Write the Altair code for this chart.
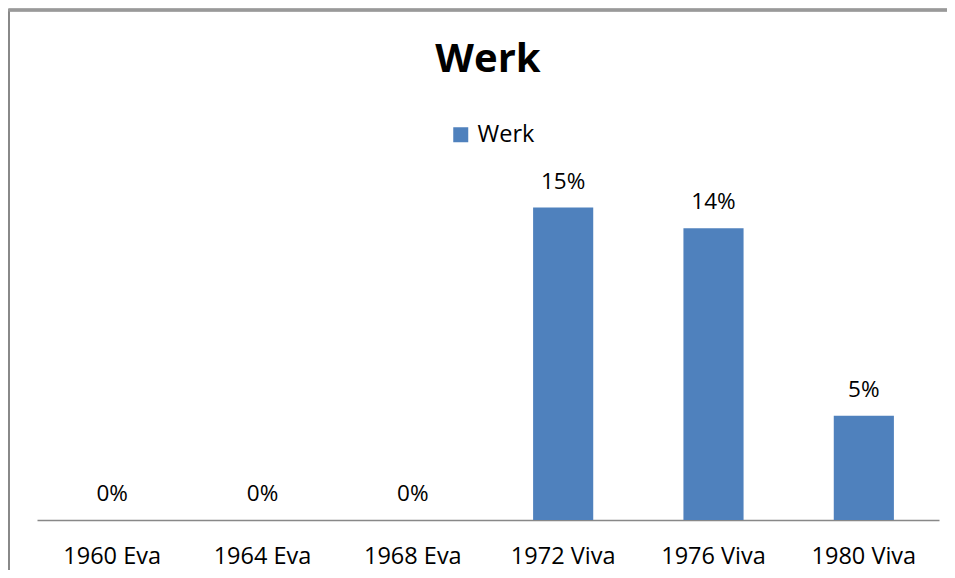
import altair as alt
import pandas as pd

categories = ["1960 Eva", "1964 Eva", "1968 Eva", "1972 Viva", "1976 Viva", "1980 Viva"]
values = [0.0, 0.0, 0.0, 0.15, 0.14, 0.05]
series_name = "Werk"
title_text = "Werk"

df = pd.DataFrame({"cat": categories, "val": values, "series": [series_name] * len(categories)})

FONT = "Open Sans"
W, H = 902, 375

x_enc = alt.X("cat:N", sort=categories, title=None,
              scale=alt.Scale(paddingInner=0.6, paddingOuter=0.3),
              axis=alt.Axis(labelAngle=0, ticks=False, labelPadding=43, labelBaseline="alphabetic",
                            labelFont=FONT, labelFontSize=23.5, labelColor="#000000",
                            domainColor="#888888", domainWidth=1.5, grid=False))
y_enc = alt.Y("val:Q", title=None, scale=alt.Scale(domain=[0, 0.18], nice=False), axis=None)

bars = alt.Chart(df).mark_bar(stroke=None).encode(
    x=x_enc, y=y_enc,
    color=alt.Color("series:N", title=None,
                    scale=alt.Scale(range=["#4F81BD"]),
                    legend=alt.Legend(orient="none", legendX=412, legendY=-22, symbolType="square",
                                      symbolSize=225, symbolStrokeWidth=0, labelFont=FONT,
                                      labelFontSize=23.5, labelColor="#000000", labelOffset=5,
                                      padding=0, symbolOffset=0)),
)

labels = alt.Chart(df).mark_text(baseline="alphabetic", dy=-19, font=FONT, fontSize=22.5, color="#000000").encode(
    x=alt.X("cat:N", sort=categories), y="val:Q", text=alt.Text("val:Q", format=".0%")
)

border_left = alt.Chart(df).mark_rule(color="#888888", strokeWidth=2).encode(
    x=alt.value(-28.5), y=alt.value(-136), y2=alt.value(433)
)
border_top = alt.Chart(df).mark_rule(color="#999999", strokeWidth=2.5).encode(
    x=alt.value(-28.5), x2=alt.value(918), y=alt.value(-135)
)

chart = alt.layer(border_left, border_top, bars, labels).properties(
    width=W, height=H,
    title=alt.TitleParams(title_text, font=FONT, fontSize=40, fontWeight="bold", color="#000000",
                          anchor="middle", baseline="alphabetic", offset=0, dy=104),
    autosize=alt.AutoSizeParams(type="none"),
    padding={"left": 29, "top": 137, "right": 8, "bottom": 50},
).configure_view(stroke=None)

chart.save("out.html", embed_options={"renderer": "svg", "actions": False})
